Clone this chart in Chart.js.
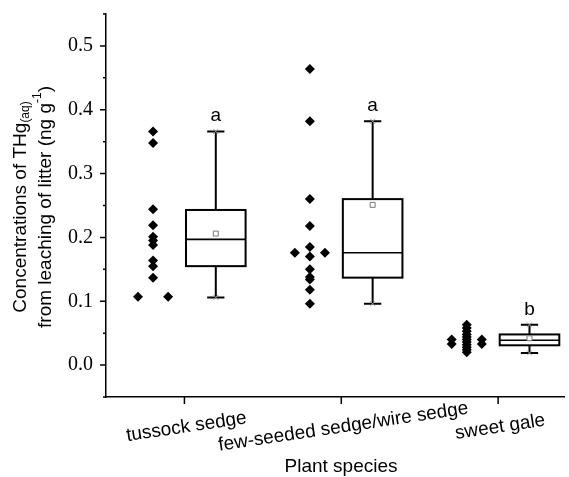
<!DOCTYPE html>
<html>
<head>
<meta charset="utf-8">
<script src="https://cdn.jsdelivr.net/npm/chart.js@4.4.1/dist/chart.umd.min.js"></script>
<style>
  html, body { margin: 0; padding: 0; background: #fff; }
</style>
</head>
<body>
<canvas id="chart" width="569" height="477"></canvas>
<script>
// categories
const species = ["tussock sedge", "few-seeded sedge/wire sedge", "sweet gale"];

// raw points (column: -1 left, 0 middle, 1 right)
const tussockValues = [0.366, 0.348, 0.244, 0.219, 0.201, 0.195, 0.188, 0.164, 0.155, 0.137, 0.107, 0.107];
const tussockColumns = [0, 0, 0, 0, 0, 0, 0, 0, 0, 0, -1, 1];
const fewSeededValues = [0.464, 0.382, 0.260, 0.218, 0.185, 0.176, 0.176, 0.170, 0.150, 0.138, 0.134, 0.118, 0.096];
const fewSeededColumns = [0, 0, 0, 0, 0, -1, 1, 0, 0, 0, 0, 0, 0];
const sweetGaleValues = [0.063, 0.058, 0.053, 0.048, 0.044, 0.040, 0.036, 0.032, 0.028, 0.024, 0.020, 0.040, 0.033, 0.040, 0.033];
const sweetGaleColumns = [0, 0, 0, 0, 0, 0, 0, 0, 0, 0, 0, -1, -1, 1, 1];

// box statistics per species
const whiskerLow = [0.106, 0.096, 0.019];
const q1 = [0.155, 0.137, 0.031];
const median = [0.197, 0.176, 0.039];
const q3 = [0.243, 0.260, 0.048];
const whiskerHigh = [0.366, 0.382, 0.063];
const means = [0.206, 0.251, 0.042];
const groupLetters = ["a", "a", "b"];

// layout constants
const POINT_SHIFT = -0.2, COL_GAP = 0.096;
const BOX_SHIFT = 0.2, BOX_HALF = 0.19, CAP_HALF = 0.055;
const SANS = "'Liberation Sans', Arial, sans-serif";
const SERIF = "'Liberation Serif', 'Times New Roman', serif";

const groups = [
  [tussockValues, tussockColumns],
  [fewSeededValues, fewSeededColumns],
  [sweetGaleValues, sweetGaleColumns]
];

const points = [];
groups.forEach(([vals, cols], i) => {
  vals.forEach((v, j) => points.push({ x: i + 1 + POINT_SHIFT + cols[j] * COL_GAP, y: v }));
});

const meanPoints = means.map((m, i) => ({ x: i + 1 + BOX_SHIFT, y: m }));
const endPoints = [];
species.forEach((_, i) => {
  endPoints.push({ x: i + 1 + BOX_SHIFT, y: whiskerLow[i] });
  endPoints.push({ x: i + 1 + BOX_SHIFT, y: whiskerHigh[i] });
});

function isMajor(v) {
  return Math.abs(v * 10 - Math.round(v * 10)) < 1e-6;
}

const boxPlugin = {
  id: "boxes",
  beforeDatasetsDraw(chart) {
    const ctx = chart.ctx;
    const xs = chart.scales.x, ys = chart.scales.y;
    ctx.save();
    ctx.strokeStyle = "#000";
    ctx.lineWidth = 2;
    species.forEach((_, i) => {
      const c = i + 1 + BOX_SHIFT;
      const xc = xs.getPixelForValue(c);
      const xl = xs.getPixelForValue(c - BOX_HALF);
      const xr = xs.getPixelForValue(c + BOX_HALF);
      const cl = xs.getPixelForValue(c - CAP_HALF);
      const cr = xs.getPixelForValue(c + CAP_HALF);
      const yq1 = ys.getPixelForValue(q1[i]);
      const yq3 = ys.getPixelForValue(q3[i]);
      const ymed = ys.getPixelForValue(median[i]);
      const ylo = ys.getPixelForValue(whiskerLow[i]);
      const yhi = ys.getPixelForValue(whiskerHigh[i]);
      ctx.beginPath();
      ctx.moveTo(xc, yq3); ctx.lineTo(xc, yhi);
      ctx.moveTo(cl, yhi); ctx.lineTo(cr, yhi);
      ctx.moveTo(xc, yq1); ctx.lineTo(xc, ylo);
      ctx.moveTo(cl, ylo); ctx.lineTo(cr, ylo);
      ctx.stroke();
      ctx.strokeRect(xl, yq3, xr - xl, yq1 - yq3);
      ctx.lineWidth = 1.6;
      ctx.beginPath();
      ctx.moveTo(xl, ymed); ctx.lineTo(xr, ymed);
      ctx.stroke();
      ctx.lineWidth = 2;
    });
    ctx.restore();
  },
  afterDatasetsDraw(chart) {
    const ctx = chart.ctx;
    const xs = chart.scales.x, ys = chart.scales.y;
    const area = chart.chartArea;
    ctx.save();
    // group letters
    ctx.fillStyle = "#000";
    ctx.font = "19px " + SANS;
    ctx.textAlign = "center";
    ctx.textBaseline = "alphabetic";
    groupLetters.forEach((t, i) => {
      ctx.fillText(t, xs.getPixelForValue(i + 1 + BOX_SHIFT), ys.getPixelForValue(whiskerHigh[i]) - 10);
    });
    // tick marks
    ctx.strokeStyle = "#000";
    ctx.lineWidth = 1.5;
    ctx.beginPath();
    ys.ticks.forEach(t => {
      const y = ys.getPixelForValue(t.value);
      const len = isMajor(t.value) ? 6 : 3;
      ctx.moveTo(area.left, y); ctx.lineTo(area.left - len, y);
    });
    xs.ticks.forEach(t => {
      const x = xs.getPixelForValue(t.value);
      ctx.moveTo(x, area.bottom); ctx.lineTo(x, area.bottom + 7);
    });
    ctx.stroke();
    // rotated category labels
    ctx.font = "19px " + SANS;
    ctx.textBaseline = "middle";
    xs.ticks.forEach((t, i) => {
      ctx.save();
      ctx.translate(xs.getPixelForValue(t.value) + 2, 427);
      ctx.rotate(-8.5 * Math.PI / 180);
      ctx.fillText(species[i], 0, 0);
      ctx.restore();
    });
    // x title
    ctx.textBaseline = "alphabetic";
    ctx.fillText("Plant species", (area.left + area.right) / 2 + 6, 472);
    // y title with sub/superscripts
    drawRich(ctx, [["Concentrations of THg", 19, 0], ["(aq)", 12, 5]], 21, 207);
    drawRich(ctx, [["from leaching of litter (ng g", 19, 0], ["-1", 12, -8], [")", 19, 0]], 46, 207);
    ctx.restore();
  }
};

function drawRich(ctx, parts, cx, cy) {
  ctx.save();
  ctx.translate(cx, cy);
  ctx.rotate(-Math.PI / 2);
  ctx.textAlign = "left";
  ctx.textBaseline = "middle";
  let total = 0;
  parts.forEach(([t, s]) => { ctx.font = s + "px " + SANS; total += ctx.measureText(t).width; });
  let x = -total / 2;
  parts.forEach(([t, s, dy]) => {
    ctx.font = s + "px " + SANS;
    ctx.fillText(t, x, dy);
    x += ctx.measureText(t).width;
  });
  ctx.restore();
}

new Chart(document.getElementById("chart"), {
  type: "scatter",
  data: {
    datasets: [
      {
        data: meanPoints,
        pointStyle: "rect",
        radius: 3.5,
        borderColor: "#777",
        backgroundColor: "#fff",
        borderWidth: 1
      },
      {
        data: endPoints,
        pointStyle: "crossRot",
        radius: 3.5,
        borderColor: "#999",
        borderWidth: 1
      },
      {
        data: points,
        pointStyle: "rectRot",
        radius: 5,
        borderWidth: 0,
        backgroundColor: "#000",
        borderColor: "#000"
      }
    ]
  },
  options: {
    responsive: false,
    animation: false,
    devicePixelRatio: 1,
    layout: { padding: { left: 0, right: 2, top: 14, bottom: 0 } },
    plugins: { legend: { display: false }, tooltip: { enabled: false } },
    scales: {
      x: {
        type: "linear",
        min: 0.5,
        max: 3.42,
        afterBuildTicks: s => { s.ticks = species.map((_, i) => ({ value: i + 1 })); },
        afterFit: s => { s.height = 80; s.paddingLeft = 0; s.paddingRight = 0; },
        ticks: { display: false },
        grid: { display: false, drawTicks: false },
        border: { display: true, color: "#000", width: 1.5 }
      },
      y: {
        min: -0.05,
        max: 0.55,
        afterFit: s => { s.width = 106; s.paddingTop = 0; s.paddingBottom = 0; },
        ticks: {
          stepSize: 0.05,
          padding: 13,
          color: "#000",
          font: { family: SERIF, size: 20 },
          callback: v => isMajor(v) ? v.toFixed(1) : ""
        },
        grid: { display: false, drawTicks: false },
        border: { display: true, color: "#000", width: 1.5 }
      }
    }
  },
  plugins: [boxPlugin]
});
</script>
</body>
</html>
